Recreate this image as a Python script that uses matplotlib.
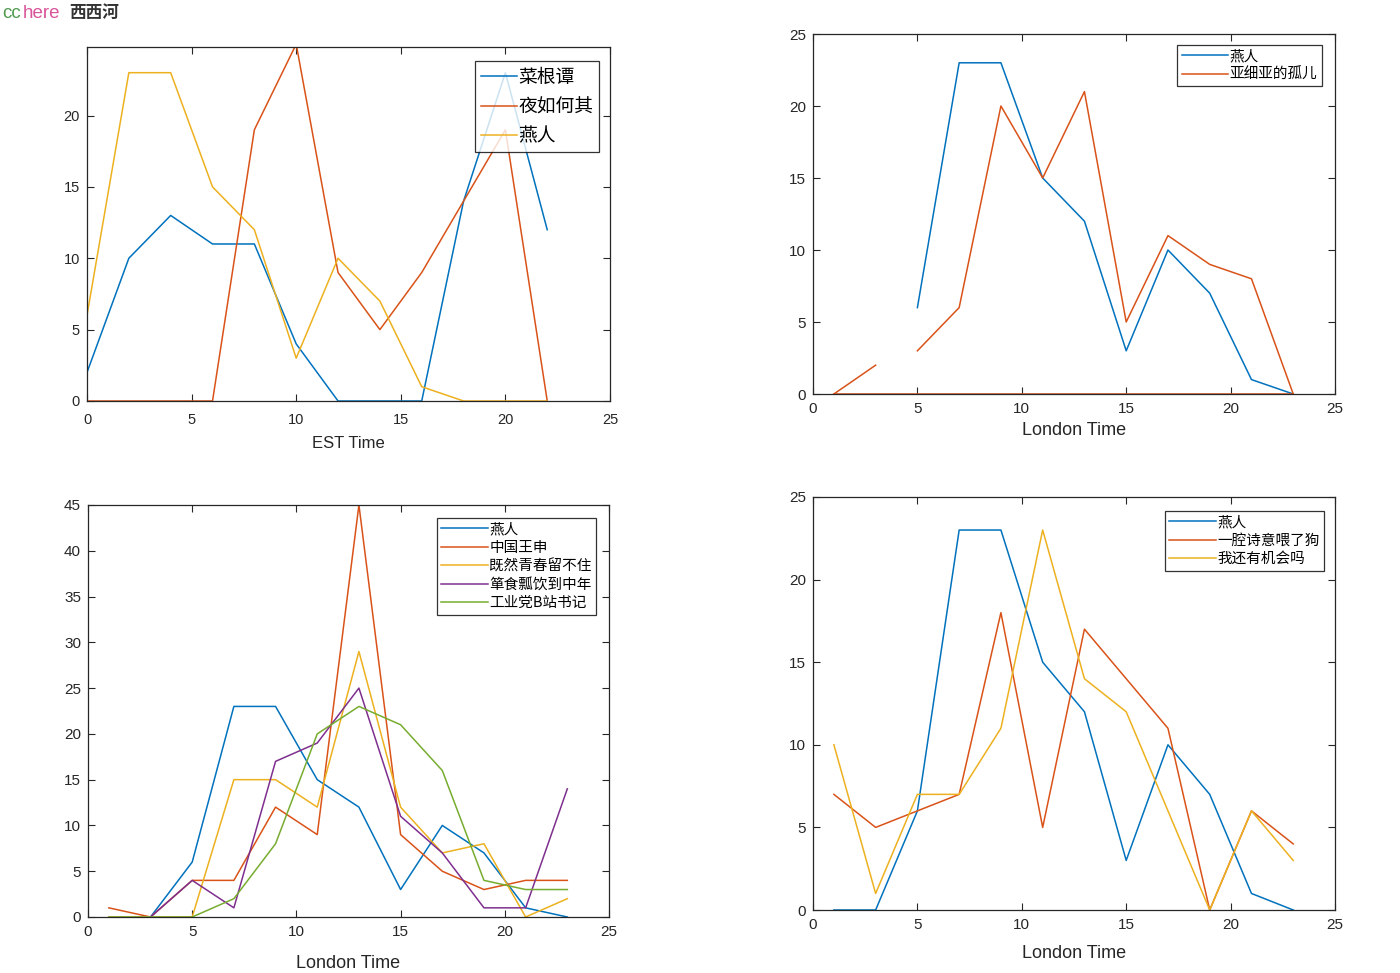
import matplotlib
matplotlib.use("Agg")
import matplotlib.pyplot as plt
import numpy as np

# ---------------- data ----------------
est_x = [0, 2, 4, 6, 8, 10, 12, 14, 16, 18, 20, 22]
est_caigentan = [2, 10, 13, 11, 11, 4, 0, 0, 0, 14, 23, 12]
est_yeruheqi = [0, 0, 0, 0, 19, 25, 9, 5, 9, 14, 19, 0]
est_yanren = [6, 23, 23, 15, 12, 3, 10, 7, 1, 0, 0, 0]
tl_labels = ["菜根谭", "夜如何其", "燕人"]

lon_x = [1, 3, 5, 7, 9, 11, 13, 15, 17, 19, 21, 23]
nan = float("nan")
tr_yanren = [nan, nan, 6, 23, 23, 15, 12, 3, 10, 7, 1, 0]
tr_orphan = [0, 2, nan, 3, 6, 20, 15, 21, 5, 11, 9, 8, 0]
tr_orphan_x = [1, 3, 4, 5, 7, 9, 11, 13, 15, 17, 19, 21, 23]
tr_orphan_base_x = [1, 23]
tr_orphan_base_y = [0, 0]
tr_labels = ["燕人", "亚细亚的孤儿"]

bl_yanren = [nan, 0, 6, 23, 23, 15, 12, 3, 10, 7, 1, 0]
bl_wangshen = [1, 0, 4, 4, 12, 9, 45, 9, 5, 3, 4, 4]
bl_qingchun = [0, 0, 0, 15, 15, 12, 29, 12, 7, 8, 0, 2]
bl_danshi = [nan, 0, 4, 1, 17, 19, 25, 11, 7, 1, 1, 14]
bl_gongye = [0, 0, 0, 2, 8, 20, 23, 21, 16, 4, 3, 3]
bl_labels = ["燕人", "中国王申", "既然青春留不住", "箪食瓢饮到中年", "工业党B站书记"]

br_yanren = [0, 0, 6, 23, 23, 15, 12, 3, 10, 7, 1, 0]
br_shiyi = [7, 5, 6, 7, 18, 5, 17, 14, 11, 0, 6, 4]
br_jihui = [10, 1, 7, 7, 11, 23, 14, 12, 6, 0, 6, 3]
br_labels = ["燕人", "一腔诗意喂了狗", "我还有机会吗"]

C = ["#0072BD", "#D95319", "#EDB120", "#7E2F8E", "#77AC30"]
AX = "#262626"

W, H = 1400, 973
fig = plt.figure(figsize=(14, 9.73), dpi=100)


def pax(l, r, t, b):
    return fig.add_axes([l / W, (H - b) / H, (r - l) / W, (b - t) / H])


def style(ax, fam, size, xpad=5):
    ax.tick_params(direction="in", top=True, right=True, length=5,
                   width=0.8, colors=AX, labelsize=size, pad=5)
    ax.tick_params(axis="x", pad=xpad)
    for lab in ax.get_xticklabels() + ax.get_yticklabels():
        lab.set_family(fam)
    for s in ax.spines.values():
        s.set_color(AX)
        s.set_linewidth(0.9)


def small_legend(ax, anchor):
    leg = ax.legend(loc="upper right", bbox_to_anchor=anchor,
                    prop={"family": cjk, "size": 10.5}, frameon=True, fancybox=False,
                    edgecolor="black", handlelength=3.2, handletextpad=0.1,
                    borderpad=0.3, labelspacing=0.3, borderaxespad=0)
    leg.get_frame().set_linewidth(0.9)
    return leg


sans = ["Liberation Sans", "DejaVu Sans"]
narrow = sans
cjk = ["Noto Sans CJK SC", "DejaVu Sans"]
lw = 1.1

# ---------------- top-left ----------------
ax1 = pax(87, 610, 47, 401)
for y, c, lab in zip([est_caigentan, est_yeruheqi, est_yanren], C, tl_labels):
    ax1.plot(est_x, y, color=c, lw=lw, label=lab)
ax1.set_xlim(0, 25)
ax1.set_ylim(0, 24.8)
ax1.set_xticks([0, 5, 10, 15, 20, 25])
ax1.set_yticks([0, 5, 10, 15, 20])
style(ax1, narrow, 10.5, xpad=9)
ax1.set_xlabel("EST Time", family=narrow, fontsize=12, color=AX, labelpad=6)
leg = ax1.legend(loc="upper right", bbox_to_anchor=(0.979, 0.960),
                 prop={"family": cjk, "size": 13.5}, frameon=True, fancybox=False,
                 edgecolor="black", handlelength=1.9, handletextpad=0.1,
                 borderpad=0.3, labelspacing=0.45, borderaxespad=0)
leg.get_frame().set_linewidth(0.9)

# ---------------- top-right ----------------
ax2 = pax(813, 1335, 34, 394)
ax2.plot(lon_x, tr_yanren, color=C[0], lw=lw, label=tr_labels[0])
ax2.plot(tr_orphan_x, tr_orphan, color=C[1], lw=lw, label=tr_labels[1])
ax2.plot(tr_orphan_base_x, tr_orphan_base_y, color=C[1], lw=lw)
ax2.set_xlim(0, 25)
ax2.set_ylim(0, 25)
ax2.set_xticks([0, 5, 10, 15, 20, 25])
ax2.set_yticks([0, 5, 10, 15, 20, 25])
style(ax2, sans, 11, xpad=6)
ax2.set_xlabel("London Time", family=sans, fontsize=13, color=AX, labelpad=4)
small_legend(ax2, (0.975, 0.969))

# ---------------- bottom-left ----------------
ax3 = pax(88, 609, 505, 917)
for y, c, lab in zip([bl_yanren, bl_wangshen, bl_qingchun, bl_danshi, bl_gongye], C, bl_labels):
    ax3.plot(lon_x, y, color=c, lw=lw, label=lab)
ax3.set_xlim(0, 25)
ax3.set_ylim(0, 45)
ax3.set_xticks([0, 5, 10, 15, 20, 25])
ax3.set_yticks(list(range(0, 50, 5)))
style(ax3, sans, 11, xpad=6)
ax3.set_xlabel("London Time", family=sans, fontsize=13, color=AX, labelpad=11)
small_legend(ax3, (0.975, 0.968))

# ---------------- bottom-right ----------------
ax4 = pax(813, 1335, 497, 910)
for y, c, lab in zip([br_yanren, br_shiyi, br_jihui], C, br_labels):
    ax4.plot(lon_x, y, color=c, lw=lw, label=lab)
ax4.set_xlim(0, 25)
ax4.set_ylim(0, 25)
ax4.set_xticks([0, 5, 10, 15, 20, 25])
ax4.set_yticks([0, 5, 10, 15, 20, 25])
style(ax4, sans, 11, xpad=6)
ax4.set_xlabel("London Time", family=sans, fontsize=13, color=AX, labelpad=9)
small_legend(ax4, (0.979, 0.966))

# ---------------- header ----------------
fig.text(2 / W, 1 - 18 / H, "cc", color="#4f9a4f", fontsize=13.5, family=sans)
fig.text(23 / W, 1 - 18 / H, "here", color="#d9559a", fontsize=13.5, family=sans)
fig.text(69 / W, 1 - 18 / H, "西西河", color="#333333", fontsize=12,
         family=cjk, fontweight="bold")

fig.savefig("out.png", dpi=100, facecolor="white")
